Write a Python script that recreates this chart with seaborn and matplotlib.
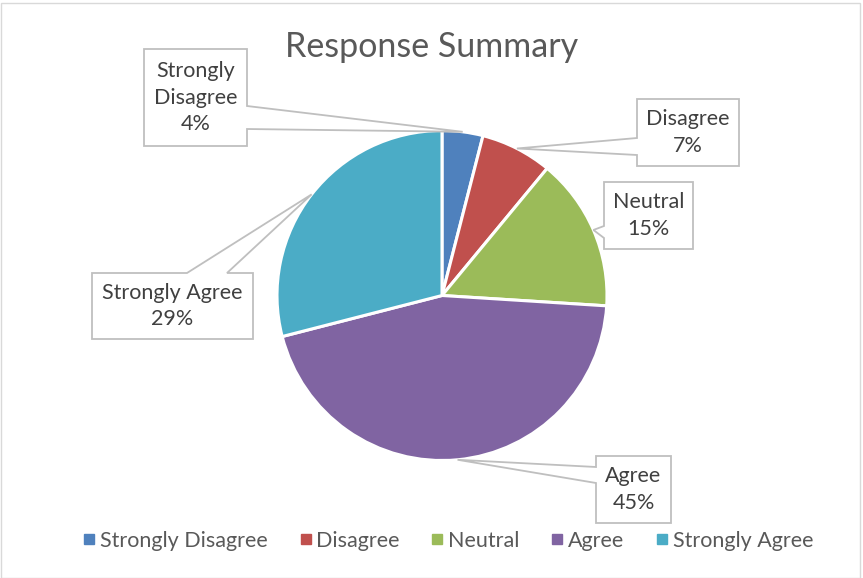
import matplotlib
matplotlib.use("Agg")
import matplotlib.pyplot as plt
import seaborn as sns
import numpy as np
from matplotlib.patches import Polygon, Rectangle
from matplotlib.lines import Line2D

categories = ["Strongly Disagree", "Disagree", "Neutral", "Agree", "Strongly Agree"]
values = [4, 7, 15, 45, 29]
label_texts = ["Strongly\nDisagree", "Disagree", "Neutral", "Agree", "Strongly Agree"]
title = "Response Summary"

sns.set_theme(style="white")
plt.rcParams['font.family'] = ['Lato', 'DejaVu Sans']

colors = sns.color_palette(["#4F81BD", "#C0504D", "#9BBB59", "#8064A2", "#4BACC6"])

W, H = 863, 578
CX, CY, R = 442, 295.5, 165.0

fig = plt.figure(figsize=(W / 100, H / 100), dpi=100)
fig.patch.set_facecolor("white")
ax = fig.add_axes([0, 0, 1, 1])
ax.set_facecolor("none")

wedges, _ = ax.pie(values, colors=colors, startangle=90, counterclock=False,
                   radius=1, center=(0, 0),
                   wedgeprops=dict(edgecolor="white", linewidth=2.2))
ax.set_xlim(-CX / R, (W - CX) / R)
ax.set_ylim(-(H - CY) / R, CY / R)
ax.set_aspect("equal")
ax.axis("off")


def P(x, y):
    return ((x - CX) / R, (CY - y) / R)


# callout boxes: (x0, y0, x1, y1, side, a, b) in pixels
boxes = [
    (144, 49, 247, 146, "right", 106, 129),
    (637, 99, 739, 166, "left", 138, 155),
    (604, 182, 693, 249, "left", 226, 238),
    (596, 456, 671, 523, "left", 467, 483),
    (92, 273, 253, 339, "top", 187, 227),
]

total = sum(values)
for w, (x0, y0, x1, y1, side, a, b), lab, v in zip(wedges, boxes, label_texts, values):
    mid = np.deg2rad((w.theta1 + w.theta2) / 2)
    tip = (np.cos(mid), np.sin(mid))
    if side == "right":
        pts = [P(x0, y0), P(x1, y0), P(x1, a), tip, P(x1, b), P(x1, y1), P(x0, y1)]
    elif side == "left":
        pts = [P(x0, y0), P(x1, y0), P(x1, y1), P(x0, y1), P(x0, b), tip, P(x0, a)]
    else:
        pts = [P(x0, y0), P(a, y0), tip, P(b, y0), P(x1, y0), P(x1, y1), P(x0, y1)]
    ax.add_patch(Polygon(pts, closed=True, facecolor="white", edgecolor="#bfbfbf",
                         linewidth=1.3, zorder=5))
    cx, cy = P((x0 + x1) / 2, (y0 + y1) / 2)
    ax.text(cx, cy, f"{lab}\n{v / total * 100:.0f}%", ha="center", va="center",
            fontsize=15.5, color="#404040", linespacing=1.42, zorder=6)

fig.text(0.5, 1 - 47 / H, title, ha="center", va="center", fontsize=24.5, color="#595959")

handles = [Line2D([0], [0], marker="s", linestyle="none", markersize=7,
                  markerfacecolor=c, markeredgecolor=c) for c in colors]
fig.legend(handles, categories, loc="center", bbox_to_anchor=(447 / W, 1 - 541 / H),
           ncol=5, frameon=False, fontsize=15.5, labelcolor="#595959",
           handletextpad=0.1, columnspacing=1.35, handlelength=0.8)

fig.add_artist(Rectangle((0.5 / W, 0.5 / H), 1 - 3.5 / W, 1 - 3.5 / H, transform=fig.transFigure,
                         fill=False, edgecolor="#d9d9d9", linewidth=1))

fig.savefig("out.png", dpi=100, facecolor="white")
